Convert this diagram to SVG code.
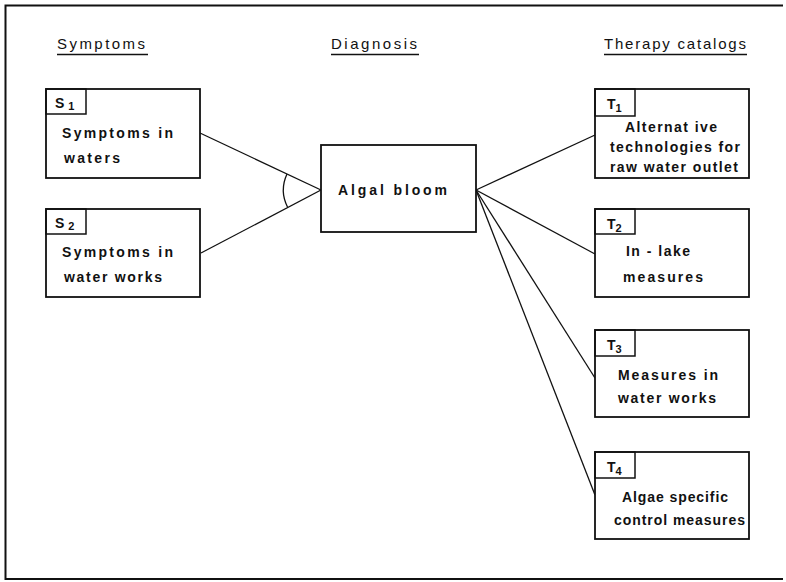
<svg xmlns="http://www.w3.org/2000/svg" width="786" height="582" viewBox="0 0 786 582">
<style>
text{font-family:"Liberation Sans",Arial,sans-serif;font-weight:bold;font-size:14px;fill:#111;letter-spacing:0}
.box{fill:#fff;stroke:#111;stroke-width:1.8}
.lab{fill:none;stroke:#111;stroke-width:1.5}
.ln{stroke:#111;stroke-width:1.3;fill:none}
.hd{font-weight:normal;font-size:15px}
.lb{font-size:14px}
.sub{font-size:11px}
</style>
<rect width="786" height="582" fill="#fff"/>
<g id="frame">
<path d="M783 5.5 H5.5 V579 H783" class="ln" style="stroke-width:2"/>
</g>
<g id="headers">
<text class="hd" x="57" y="49" textLength="88" lengthAdjust="spacing">Symptoms</text>
<line class="ln" x1="57" y1="54.5" x2="148" y2="54.5"/>
<text class="hd" x="331" y="49" textLength="86" lengthAdjust="spacing">Diagnosis</text>
<line class="ln" x1="331" y1="54.5" x2="419" y2="54.5"/>
<text class="hd" x="604" y="49" textLength="142" lengthAdjust="spacing">Therapy catalogs</text>
<line class="ln" x1="604" y1="54.5" x2="747" y2="54.5"/>
</g>
<g id="connectors">
<line class="ln" x1="200" y1="133" x2="321" y2="190"/>
<line class="ln" x1="201" y1="253" x2="321" y2="190"/>
<path class="ln" d="M287 174 A38 38 0 0 0 287.5 207"/>
<line class="ln" x1="476" y1="190" x2="595" y2="135"/>
<line class="ln" x1="476" y1="190" x2="595" y2="254"/>
<line class="ln" x1="476" y1="190" x2="595" y2="378"/>
<line class="ln" x1="476" y1="190" x2="595" y2="495"/>
</g>
<g id="S1">
<rect class="box" x="46" y="89" width="154" height="89"/>
<rect class="lab" x="46" y="89" width="40" height="25"/>
<text class="lb" x="55" y="108">S<tspan class="sub" dx="4" dy="2">1</tspan></text>
<text x="62" y="138" textLength="111" lengthAdjust="spacing">Symptoms in</text>
<text x="64" y="163" textLength="56" lengthAdjust="spacing">waters</text>
</g>
<g id="S2">
<rect class="box" x="46" y="209" width="154" height="88"/>
<rect class="lab" x="46" y="209" width="40" height="25"/>
<text class="lb" x="55" y="228">S<tspan class="sub" dx="4" dy="2">2</tspan></text>
<text x="62" y="257" textLength="111" lengthAdjust="spacing">Symptoms in</text>
<text x="64" y="282" textLength="98" lengthAdjust="spacing">water works</text>
</g>
<g id="bloom">
<rect class="box" x="321" y="145" width="155" height="87"/>
<text x="338" y="195" textLength="109" lengthAdjust="spacing">Algal bloom</text>
</g>
<g id="T1">
<rect class="box" x="595" y="89" width="154" height="89"/>
<rect class="lab" x="595" y="89" width="40" height="27"/>
<text class="lb" x="607" y="109">T<tspan class="sub" dx="0" dy="3">1</tspan></text>
<text x="625" y="132" textLength="92" lengthAdjust="spacing">Alternat ive</text>
<text x="610" y="152" textLength="130" lengthAdjust="spacing">technologies for</text>
<text x="610" y="172" textLength="128" lengthAdjust="spacing">raw water outlet</text>
</g>
<g id="T2">
<rect class="box" x="595" y="209" width="154" height="88"/>
<rect class="lab" x="595" y="209" width="40" height="25"/>
<text class="lb" x="607" y="229">T<tspan class="sub" dx="0" dy="3">2</tspan></text>
<text x="626" y="256" textLength="64" lengthAdjust="spacing">In - lake</text>
<text x="623" y="282" textLength="80" lengthAdjust="spacing">measures</text>
</g>
<g id="T3">
<rect class="box" x="595" y="330" width="154" height="87"/>
<rect class="lab" x="595" y="330" width="40" height="26"/>
<text class="lb" x="607" y="350">T<tspan class="sub" dx="0" dy="3">3</tspan></text>
<text x="618" y="380" textLength="100" lengthAdjust="spacing">Measures in</text>
<text x="618" y="403" textLength="98" lengthAdjust="spacing">water works</text>
</g>
<g id="T4">
<rect class="box" x="595" y="452" width="154" height="87"/>
<rect class="lab" x="595" y="452" width="40" height="26"/>
<text class="lb" x="607" y="472">T<tspan class="sub" dx="0" dy="3">4</tspan></text>
<text x="622" y="502" textLength="106" lengthAdjust="spacing">Algae specific</text>
<text x="614" y="525" textLength="131" lengthAdjust="spacing">control measures</text>
</g>
</svg>
